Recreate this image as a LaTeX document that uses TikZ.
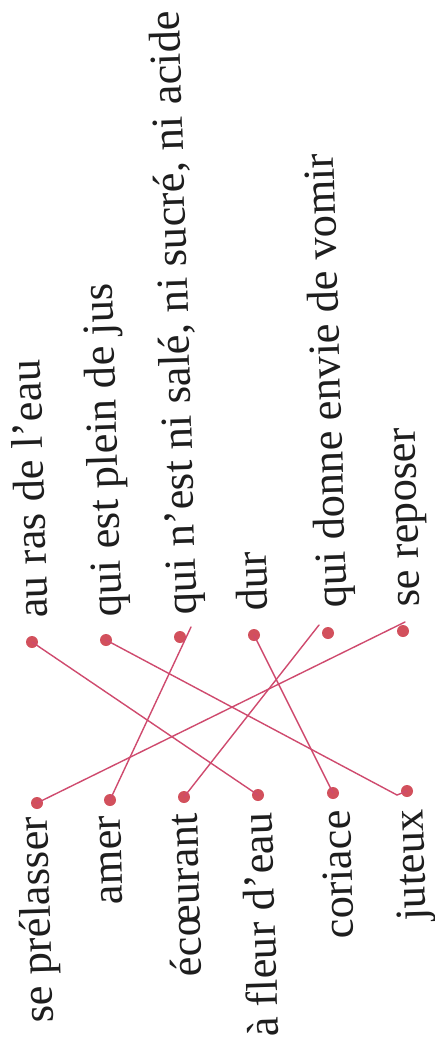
\documentclass[tikz,border=0pt]{standalone}
\usepackage{fontspec}
\setmainfont{Liberation Serif}
\definecolor{ink}{HTML}{1E1E1E}
\definecolor{lred}{HTML}{CF4A6E}
\definecolor{dotred}{HTML}{D2505C}
\begin{document}
\begin{tikzpicture}[x=1pt,y=-1pt,
  word/.style={rotate=91.7, inner sep=0pt, text=ink, font=\fontsize{44.5}{50}\selectfont},
  lword/.style={word, anchor=base east},
  rword/.style={word, anchor=base west},
  dotnode/.style={circle, fill=dotred, minimum size=12pt, inner sep=0pt},
  link/.style={draw=lred, line width=1.4pt, line cap=round}]
\useasboundingbox (0,0) rectangle (435,1050);
\fill[white] (0,0) rectangle (435,1050);
% left words
\node[lword] (w1) at (47,816) {se prélasser};
\node[lword] (w2) at (120,815) {amer};
\node[lword] (w3) at (197,813) {écœurant};
\node[lword] (w4) at (272,812) {à fleur d’eau};
\node[lword] (w5) at (350,810) {coriace};
\node[lword] (w6) at (423,809) {juteux};
% right definitions
\node[rword] (d1) at (48,618) {au ras de l’eau};
\node[rword] (d2) at (122,617) {qui est plein de jus};
\node[rword] (d3) at (197,615) {qui n’est ni salé, ni sucré, ni acide};
\node[rword] (d4) at (268,611) {dur};
\node[rword] (d5) at (347,608) {qui donne envie de vomir};
\node[rword] (d6) at (420,607) {se reposer};
% left dots
\node[dotnode] (l1) at (37,803) {};
\node[dotnode] (l2) at (110,800) {};
\node[dotnode] (l3) at (184,797) {};
\node[dotnode] (l4) at (258,795) {};
\node[dotnode] (l5) at (333,793) {};
\node[dotnode] (l6) at (407,791) {};
% right dots
\node[dotnode] (r1) at (32,642) {};
\node[dotnode] (r2) at (106,640) {};
\node[dotnode] (r3) at (180,637) {};
\node[dotnode] (r4) at (254,635) {};
\node[dotnode] (r5) at (328,633) {};
\node[dotnode] (r6) at (403,631) {};
% free ends of hand-drawn strokes
\coordinate (e1) at (405,622);
\coordinate (e2) at (191,627);
\coordinate (e3) at (319,625);
\coordinate (e6) at (397,795);
% connectors
\draw[link] (l1.center) -- (e1);
\draw[link] (l2.center) -- (e2);
\draw[link] (l3.center) -- (e3);
\draw[link] (r1.center) -- (l4.center);
\draw[link] (r4.center) -- (l5.center);
\draw[link] (r2.center) -- (e6) -- (l6.center);
\end{tikzpicture}
\end{document}
